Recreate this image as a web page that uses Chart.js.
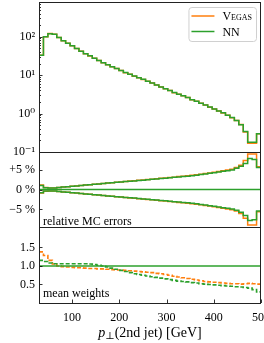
<!DOCTYPE html>
<html><head><meta charset="utf-8">
<script src="https://cdn.jsdelivr.net/npm/chart.js@4/dist/chart.umd.min.js"></script>
<style>html,body{margin:0;padding:0;background:#fff;overflow:hidden}#wrap{width:264px;height:343px;position:relative}</style>
</head><body><div id="wrap"><canvas id="c" width="264" height="343"></canvas></div>
<script>
// ---- data ----
const binEdges = [30, 39.4, 48.8, 58.2, 67.6, 77, 86.4, 95.8, 105.2, 114.6, 124, 133.4, 142.8, 152.2, 161.6, 171, 180.4, 189.8, 199.2, 208.6, 218, 227.4, 236.8, 246.2, 255.6, 265, 274.4, 283.8, 293.2, 302.6, 312, 321.4, 330.8, 340.2, 349.6, 359, 368.4, 377.8, 387.2, 396.6, 406, 415.4, 424.8, 434.2, 443.6, 453, 462.4, 471.8, 481.2, 490.6, 500];
const nnHist = [33, 100, 120, 115, 95, 79, 68, 58, 49, 42, 36, 32, 27.5, 24, 21, 18.6, 16.6, 14.8, 13.2, 11.7, 10.5, 9.5, 8.5, 7.8, 6.9, 6.2, 5.5, 4.9, 4.4, 4.0, 3.55, 3.2, 2.9, 2.6, 2.3, 2.1, 1.86, 1.66, 1.48, 1.32, 1.17, 1.05, 0.91, 0.79, 0.66, 0.51, 0.34, 0.18, 0.18, 0.30];
const vegasHist = [33, 100, 121, 115, 95, 79, 68, 58, 49, 42, 36, 31.5, 27.5, 24, 21, 18.6, 16.5, 14.8, 13.2, 11.6, 10.5, 9.4, 8.5, 7.7, 6.9, 6.2, 5.5, 4.9, 4.4, 4.0, 3.5, 3.2, 2.9, 2.6, 2.3, 2.1, 1.85, 1.66, 1.47, 1.32, 1.17, 1.04, 0.91, 0.78, 0.66, 0.52, 0.33, 0.17, 0.17, 0.30];
const nnErrUp = [1.0, 0.45, 0.35, 0.4, 0.5, 0.6, 0.7, 0.8, 0.9, 1.0, 1.1, 1.2, 1.3, 1.4, 1.5, 1.6, 1.7, 1.8, 1.9, 2.0, 2.05, 2.15, 2.25, 2.35, 2.45, 2.55, 2.65, 2.75, 2.85, 2.95, 3.05, 3.15, 3.25, 3.35, 3.45, 3.6, 3.75, 3.9, 4.05, 4.2, 4.4, 4.55, 4.7, 4.9, 5.3, 5.8, 6.5, 7.8, 7.5, 5.5];
const nnErrDown = [-0.8, -0.4, -0.35, -0.4, -0.5, -0.6, -0.7, -0.8, -0.9, -1.0, -1.1, -1.2, -1.3, -1.4, -1.5, -1.6, -1.7, -1.8, -1.9, -2.0, -2.05, -2.15, -2.25, -2.35, -2.45, -2.55, -2.65, -2.75, -2.85, -2.95, -3.05, -3.15, -3.25, -3.35, -3.45, -3.6, -3.75, -3.9, -4.05, -4.2, -4.4, -4.55, -4.7, -4.9, -5.2, -5.7, -6.5, -7.8, -7.6, -5.4];
const vegasErrUp = [1.1, 0.5, 0.35, 0.4, 0.5, 0.6, 0.7, 0.8, 0.9, 1.0, 1.1, 1.2, 1.3, 1.4, 1.5, 1.6, 1.7, 1.8, 1.9, 2.0, 2.1, 2.2, 2.3, 2.4, 2.5, 2.6, 2.7, 2.8, 2.9, 3.0, 3.1, 3.25, 3.35, 3.45, 3.55, 3.7, 3.85, 4.0, 4.15, 4.3, 4.5, 4.7, 4.9, 5.1, 5.5, 6.1, 7.3, 8.9, 8.9, 5.7];
const vegasErrDown = [-0.9, -0.45, -0.35, -0.4, -0.5, -0.6, -0.7, -0.8, -0.9, -1.0, -1.1, -1.2, -1.3, -1.4, -1.5, -1.6, -1.7, -1.8, -1.9, -2.0, -2.1, -2.2, -2.3, -2.4, -2.5, -2.6, -2.7, -2.8, -2.9, -3.0, -3.1, -3.25, -3.35, -3.45, -3.55, -3.7, -3.85, -4.0, -4.15, -4.3, -4.5, -4.7, -4.9, -5.1, -5.4, -6.0, -7.2, -8.9, -8.9, -5.6];
const vegasWeights = [1.38, 1.28, 1.15, 1.05, 1.0, 0.98, 0.97, 0.96, 0.95, 0.95, 0.94, 0.93, 0.93, 0.92, 0.92, 0.91, 0.90, 0.89, 0.89, 0.88, 0.87, 0.86, 0.85, 0.84, 0.83, 0.82, 0.80, 0.79, 0.77, 0.75, 0.72, 0.70, 0.68, 0.66, 0.64, 0.62, 0.60, 0.58, 0.57, 0.56, 0.55, 0.54, 0.53, 0.52, 0.52, 0.51, 0.52, 0.53, 0.52, 0.51];
const nnWeights = [1.15, 1.12, 1.08, 1.06, 1.06, 1.06, 1.06, 1.06, 1.06, 1.06, 1.06, 1.05, 1.04, 1.02, 1.0, 0.97, 0.94, 0.91, 0.88, 0.85, 0.82, 0.79, 0.77, 0.75, 0.73, 0.71, 0.69, 0.67, 0.65, 0.63, 0.61, 0.59, 0.58, 0.57, 0.55, 0.54, 0.52, 0.51, 0.50, 0.49, 0.48, 0.47, 0.46, 0.45, 0.44, 0.43, 0.42, 0.40, 0.36, 0.30];
const xTickValues = [100, 200, 300, 400, 500];
const topTickValues = [0.1, 1, 10, 100];
const topTickLabels = ['10\u207B\u00B9', '10\u2070', '10\u00B9', '10\u00B2'];
const topMinorTicks = [0.2,0.3,0.4,0.5,0.6,0.7,0.8,0.9,2,3,4,5,6,7,8,9,20,30,40,50,60,70,80,90,200,300,400,500,600,700];
const midTickValues = [-5, 0, 5];
const midTickLabels = ['\u22125 %', '0 %', '+5 %'];
const botTickValues = [0.5, 1.0, 1.5];
const botTickLabels = ['0.5', '1.0', '1.5'];
const seriesNames = ['Vegas', 'NN'];
const panelLabels = ['relative MC errors', 'mean weights'];
const xTitleParts = ['p', '\u22A5', '(2nd jet) [GeV]'];

// ---- helpers ----
const ORANGE = '#ff7f0e', GREEN = '#2ca02c';
const FONT = "'Liberation Serif', 'DejaVu Serif', serif";
function steps(vals) {
  const pts = vals.map((v, i) => ({x: binEdges[i], y: v}));
  pts.push({x: binEdges[binEdges.length - 1], y: vals[vals.length - 1]});
  return pts;
}
function flat(v) { return [{x: binEdges[0], y: v}, {x: binEdges[binEdges.length - 1], y: v}]; }
function ds(data, axis, color, extra) {
  return Object.assign({data, yAxisID: axis, borderColor: color, backgroundColor: color,
    borderWidth: 1.5, pointRadius: 0, stepped: true, fill: false, tension: 0}, extra || {});
}
const tickFont = {family: FONT, size: 12};
function fixY(s) { s.width = 39; s.paddingTop = 0; s.paddingBottom = 0; }

const decor = {
  id: 'decor',
  afterDatasetsDraw(chart) {
    const ctx = chart.ctx, ca = chart.chartArea, sc = chart.scales;
    ctx.save();
    ctx.strokeStyle = '#000';
    ctx.lineWidth = 0.8;
    const yt = (scale, vals, len) => vals.forEach(v => {
      const y = Math.round(scale.getPixelForValue(v)) + 0.5;
      ctx.beginPath(); ctx.moveTo(ca.left, y); ctx.lineTo(ca.left + len, y); ctx.stroke();
    });
    yt(sc.yTop, topTickValues, 3.5); yt(sc.yTop, topMinorTicks, 2);
    yt(sc.yMid, midTickValues, 3.5); yt(sc.yBot, botTickValues, 3.5);
    xTickValues.forEach(v => {
      const x = Math.round(sc.x.getPixelForValue(v)) + 0.5;
      ctx.beginPath(); ctx.moveTo(x, ca.bottom); ctx.lineTo(x, ca.bottom - 3.5); ctx.stroke();
    });
    // frames
    ctx.strokeStyle = '#222'; ctx.lineWidth = 1;
    [sc.yTop, sc.yMid, sc.yBot].forEach(s => {
      ctx.strokeRect(Math.round(ca.left) + 0.5, Math.round(s.top) + 0.5, Math.round(ca.right - ca.left) - 1, Math.round(s.bottom - s.top));
    });
    // panel labels
    ctx.fillStyle = '#000';
    ctx.font = '12px ' + FONT;
    ctx.textAlign = 'left'; ctx.textBaseline = 'alphabetic';
    ctx.fillText(panelLabels[0], ca.left + 4, sc.yMid.bottom - 2.5);
    ctx.fillText(panelLabels[1], ca.left + 4, sc.yBot.bottom - 6);
    // legend
    const items = [[seriesNames[0], chart.data.datasets[1].borderColor], [seriesNames[1], chart.data.datasets[0].borderColor]];
    ctx.font = 'small-caps 12px ' + FONT;
    const tw = Math.max(...items.map(it => ctx.measureText(it[0]).width));
    const lineLen = 23, gap = 8, pad = 3, rowH = 15.5;
    const bw = pad + lineLen + gap + tw + pad + 1, bh = 34;
    const bx = ca.right - 5 - bw, by = ca.top + 5;
    ctx.beginPath();
    ctx.roundRect(bx + 0.5, by + 0.5, bw, bh, 3);
    ctx.fillStyle = 'rgba(255,255,255,0.85)'; ctx.fill();
    ctx.strokeStyle = '#d0d0d0'; ctx.lineWidth = 1; ctx.stroke();
    items.forEach((it, i) => {
      const y = by + 9 + i * rowH;
      ctx.strokeStyle = it[1]; ctx.lineWidth = 1.5;
      ctx.beginPath(); ctx.moveTo(bx + pad, y); ctx.lineTo(bx + pad + lineLen, y); ctx.stroke();
      ctx.fillStyle = '#000'; ctx.textBaseline = 'middle';
      ctx.fillText(it[0], bx + pad + lineLen + gap, y + 1);
    });
    // x title
    const cx = (ca.left + ca.right) / 2, base = 337;
    const f1 = 'italic 14px ' + FONT, f2 = '10px ' + FONT, f3 = '14px ' + FONT;
    ctx.textBaseline = 'alphabetic';
    ctx.font = f1; const w1 = ctx.measureText(xTitleParts[0]).width;
    ctx.font = f2; const w2 = ctx.measureText(xTitleParts[1]).width;
    ctx.font = f3; const w3 = ctx.measureText(xTitleParts[2]).width;
    let x0 = cx - (w1 + w2 + w3) / 2;
    ctx.fillStyle = '#000';
    ctx.font = f1; ctx.fillText(xTitleParts[0], x0, base);
    ctx.font = f2; ctx.fillText(xTitleParts[1], x0 + w1, base + 2);
    ctx.font = f3; ctx.fillText(xTitleParts[2], x0 + w1 + w2, base);
    ctx.restore();
  }
};

new Chart(document.getElementById('c'), {
  type: 'line',
  data: {
    datasets: [
      ds(steps(nnHist), 'yTop', GREEN),
      ds(steps(vegasHist), 'yTop', ORANGE),
      ds(flat(0), 'yMid', GREEN, {stepped: false}),
      ds(steps(nnErrUp), 'yMid', GREEN),
      ds(steps(nnErrDown), 'yMid', GREEN),
      ds(steps(vegasErrUp), 'yMid', ORANGE),
      ds(steps(vegasErrDown), 'yMid', ORANGE),
      ds(flat(1), 'yBot', GREEN, {stepped: false}),
      ds(steps(nnWeights), 'yBot', GREEN, {borderDash: [4, 2], borderWidth: 1.6}),
      ds(steps(vegasWeights), 'yBot', ORANGE, {borderDash: [4, 2], borderWidth: 1.6})
    ]
  },
  options: {
    responsive: false, animation: false, events: [],
    layout: {padding: {top: 2, right: 3, left: 0, bottom: 0}},
    plugins: {legend: {display: false}, tooltip: {enabled: false}},
    scales: {
      x: {type: 'linear', position: 'bottom', min: 30, max: 500,
        afterBuildTicks: s => { s.ticks = xTickValues.map(v => ({value: v})); },
        ticks: {font: tickFont, color: '#000', padding: 8, maxRotation: 0, autoSkip: false, callback: v => String(v)},
        grid: {display: false, drawTicks: false}, border: {display: false},
        afterFit: s => { s.height = 40; s.paddingLeft = 0; s.paddingRight = 0; }},
      yTop: {type: 'logarithmic', position: 'left', stack: 'p', stackWeight: 150, weight: 3, min: 0.1, max: 800,
        afterBuildTicks: s => { s.ticks = topTickValues.map(v => ({value: v})); },
        ticks: {font: tickFont, color: '#000', padding: 4, autoSkip: false, callback: (v, i) => topTickLabels[i]},
        grid: {display: false, drawTicks: false}, border: {display: false}, afterFit: fixY},
      yMid: {type: 'linear', position: 'left', stack: 'p', stackWeight: 75, weight: 2, min: -9.4, max: 9.4,
        afterBuildTicks: s => { s.ticks = midTickValues.map(v => ({value: v})); },
        ticks: {font: tickFont, color: '#000', padding: 4, autoSkip: false, callback: (v, i) => midTickLabels[i]},
        grid: {display: false, drawTicks: false}, border: {display: false}, afterFit: fixY},
      yBot: {type: 'linear', position: 'left', stack: 'p', stackWeight: 76, weight: 1, min: 0, max: 2.05,
        afterBuildTicks: s => { s.ticks = botTickValues.map(v => ({value: v})); },
        ticks: {font: tickFont, color: '#000', padding: 4, autoSkip: false, callback: (v, i) => botTickLabels[i]},
        grid: {display: false, drawTicks: false}, border: {display: false}, afterFit: fixY}
    }
  },
  plugins: [decor]
});
</script></body></html>
